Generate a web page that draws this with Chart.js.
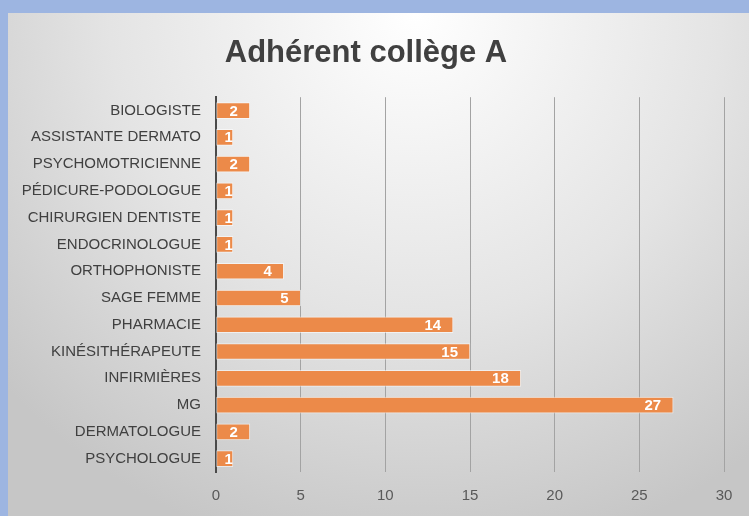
<!DOCTYPE html>
<html>
<head>
<meta charset="utf-8">
<script src="https://cdn.jsdelivr.net/npm/chart.js@4.4.1/dist/chart.umd.min.js"></script>
<style>
    html, body { margin: 0; padding: 0; }
    body { width: 749px; height: 516px; background: #9db5e1; position: relative; overflow: hidden; }
    #frame {
        position: absolute; left: 8px; top: 13px; width: 741px; height: 503px;
        background: radial-gradient(ellipse 75% 110% at 55% 0%, #ffffff 0%, #e4e4e4 55%, #c6c6c6 100%);
    }
</style>
</head>
<body>
<div id="frame"><canvas id="chart" width="741" height="503"></canvas></div>
<script>
// Adhérent collège A - horizontal bar chart

const categories = [
    'BIOLOGISTE', 'ASSISTANTE DERMATO', 'PSYCHOMOTRICIENNE', 'PÉDICURE-PODOLOGUE',
    'CHIRURGIEN DENTISTE', 'ENDOCRINOLOGUE', 'ORTHOPHONISTE', 'SAGE FEMME',
    'PHARMACIE', 'KINÉSITHÉRAPEUTE', 'INFIRMIÈRES', 'MG', 'DERMATOLOGUE', 'PSYCHOLOGUE'
];
const adherents = [2, 1, 2, 1, 1, 1, 4, 5, 14, 15, 18, 27, 2, 1];
const xTicks = [0, 5, 10, 15, 20, 25, 30];

const fontFamily = '"Liberation Sans", Arial, sans-serif';

// white value labels near the end of each bar
const barLabels = {
    id: 'barLabels',
    afterDatasetsDraw(chart) {
        const { ctx } = chart;
        const meta = chart.getDatasetMeta(0);
        ctx.save();
        ctx.font = 'bold 15px ' + fontFamily;
        ctx.fillStyle = '#ffffff';
        ctx.textAlign = 'right';
        ctx.textBaseline = 'middle';
        meta.data.forEach((bar, i) => {
            const txt = String(adherents[i]);
            const w = ctx.measureText(txt).width;
            const x = Math.max(bar.x - 12, bar.base + 8 + w);
            ctx.fillText(txt, x, bar.y + 1);
        });
        ctx.restore();
    }
};

new Chart(document.getElementById('chart'), {
    type: 'bar',
    data: {
        labels: categories,
        datasets: [{
            label: 'Adhérent',
            data: adherents,
            backgroundColor: '#ec8a49',
            borderColor: 'rgba(255,255,255,0.55)',
            borderWidth: 1,
            borderSkipped: false,
            barThickness: 16
        }]
    },
    options: {
        indexAxis: 'y',
        responsive: false,
        animation: false,
        layout: { padding: { left: 0, right: 25, top: 0, bottom: 0 } },
        plugins: {
            legend: { display: false },
            tooltip: { enabled: false },
            title: {
                display: true,
                text: 'Adhérent collège A',
                color: '#404040',
                font: { family: fontFamily, size: 31, weight: 'bold', lineHeight: 1.2 },
                padding: { top: 22, bottom: 25 }
            }
        },
        scales: {
            x: {
                min: 0,
                max: 30,
                afterBuildTicks: (scale) => { scale.ticks = xTicks.map(v => ({ value: v })); },
                afterFit: (scale) => { scale.height = 44; },
                ticks: { color: '#595959', font: { family: fontFamily, size: 15 }, padding: 15 },
                grid: { color: '#a3a3a3', lineWidth: 1, drawTicks: false },
                border: { display: false }
            },
            y: {
                afterFit: (scale) => { scale.width = 208; },
                ticks: { color: '#404040', font: { family: fontFamily, size: 15 }, padding: 15 },
                grid: { display: false, drawTicks: false },
                border: { display: true, color: '#4a4a4a', width: 2 }
            }
        }
    },
    plugins: [barLabels]
});
</script>
</body>
</html>
